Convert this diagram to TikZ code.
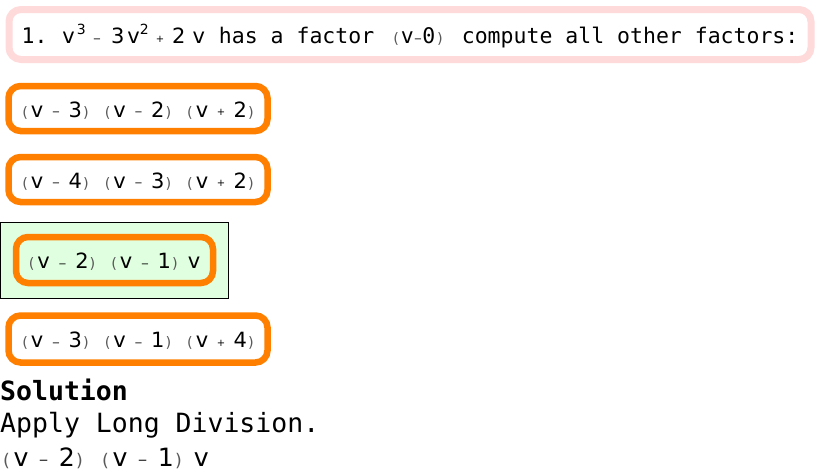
\documentclass[tikz,border=0pt]{standalone}
\usepackage{fontspec}
\setmainfont{DejaVu Sans}
\setmonofont{DejaVu Sans Mono}
\definecolor{qpink}{RGB}{255,218,218}
\definecolor{ansorange}{RGB}{255,127,0}
\definecolor{pickgreen}{RGB}{224,255,224}
\newcommand\lpar{{\fontsize{14.5}{15}\selectfont\color{black!65}(}}
\newcommand\rpar{{\fontsize{14.5}{15}\selectfont\color{black!65})}}
\newcommand\opsym[1]{\raisebox{1.5pt}{\fontsize{10}{10}\selectfont#1}}
\newcommand\sups[1]{\raisebox{9pt}{\fontsize{14}{14}\selectfont#1}}
\newcommand\qtt[1]{{\fontsize{21.5}{24}\selectfont\ttfamily#1}}
\newcommand\fctr[2]{\lpar\hspace{3pt}v\hspace{8.5pt}\opsym{#1}\hspace{8.5pt}#2\hspace{1pt}\rpar}
\begin{document}
\begin{tikzpicture}[x=1pt,y=-1pt,
	qbox/.style={draw=qpink,line width=7pt,rounded corners=12pt,minimum width=802pt,minimum height=50pt,
		text height=22pt,text depth=4pt,font=\fontsize{21}{24}\selectfont},
	ansbox/.style={draw=ansorange,line width=6.5pt,rounded corners=12pt,minimum width=259pt,minimum height=45pt,
		text height=21pt,text depth=4pt,font=\fontsize{21}{24}\selectfont},
	solline/.style={anchor=base west,inner sep=0pt,font=\fontsize{26.5}{30}\selectfont\ttfamily}]
	\useasboundingbox (0,0) rectangle (820,474);
	\node[qbox] (question) at (410,34.5) {\qtt{1.\ }\hspace{2pt}v\hspace{2pt}\sups{3}\hspace{7pt}\opsym{−}\hspace{10pt}3\hspace{3pt}v\sups{2}\hspace{7pt}\opsym{+}\hspace{8pt}2\hspace{7pt}v\hspace{1pt}\qtt{\ has a factor}\hspace{19pt}\lpar\hspace{2pt}\qtt{v}\opsym{−}\qtt{0}\hspace{2pt}\rpar\hspace{19pt}\qtt{compute all other factors:}};
	\node[ansbox] (ansA) at (138,108.5) {\fctr{−}{3}\hspace{16pt}\fctr{−}{2}\hspace{16pt}\fctr{+}{2}};
	\node[ansbox] (ansB) at (138,179.5) {\fctr{−}{4}\hspace{16pt}\fctr{−}{3}\hspace{16pt}\fctr{+}{2}};
	% the picked answer
	\node[draw,fill=pickgreen,line width=0.8pt,minimum width=228pt,minimum height=76pt,inner sep=0pt] (pick) at (114.5,260) {};
	\node[ansbox,minimum width=197pt,minimum height=46pt] (ansC) at (pick) {\fctr{−}{2}\hspace{16pt}\fctr{−}{1}\hspace{10pt}v};
	\node[ansbox,minimum height=47pt] (ansD) at (138,339) {\fctr{−}{3}\hspace{16pt}\fctr{−}{1}\hspace{16pt}\fctr{+}{4}};
	\node[solline] (solhead) at (0,400) {\bfseries Solution};
	\node[solline] (soltext) at (0,432.5) {Apply Long Division.};
	\node[anchor=base west,inner sep=0pt,scale=1.2,transform shape,font=\fontsize{21}{24}\selectfont] (solans) at (3,466.5) {\fctr{−}{2}\hspace{16pt}\fctr{−}{1}\hspace{10pt}v};
\end{tikzpicture}
\end{document}
